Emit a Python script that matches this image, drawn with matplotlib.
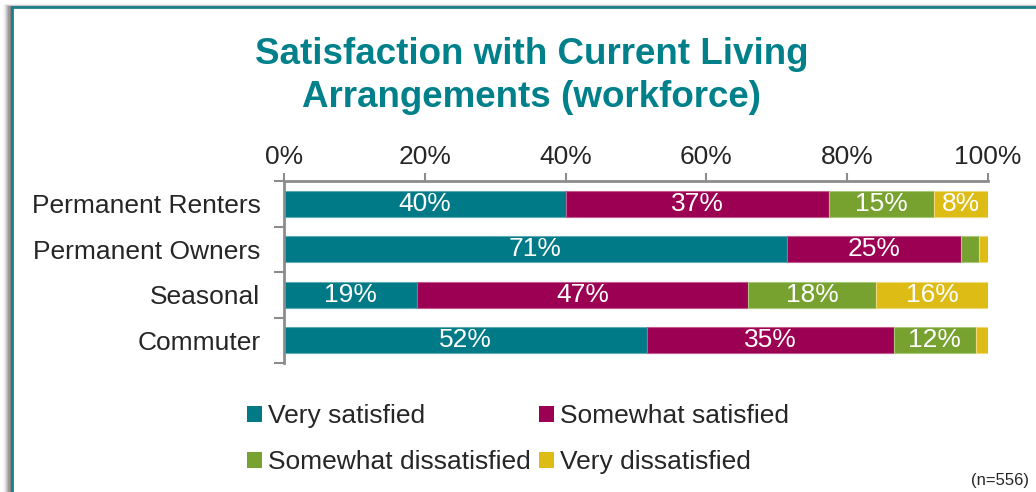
import matplotlib
matplotlib.use('Agg')
import matplotlib.pyplot as plt
from matplotlib.patches import Rectangle
import numpy as np

plt.rcParams['font.family'] = ['Liberation Sans', 'DejaVu Sans']

# Data (percent of respondents)
categories = ['Permanent Renters', 'Permanent Owners', 'Seasonal', 'Commuter']
very_satisfied = [40.0, 71.4, 18.9, 51.6]
somewhat_satisfied = [37.4, 24.8, 47.0, 35.0]
somewhat_dissatisfied = [14.9, 2.5, 18.2, 11.7]
very_dissatisfied = [7.7, 1.3, 15.9, 1.7]
series_names = ['Very satisfied', 'Somewhat satisfied',
                'Somewhat dissatisfied', 'Very dissatisfied']
colors = ['#007A87', '#9C0052', '#77A22F', '#DEBC16']
edge_colors = ['#5FAAB3', '#C25A8C', '#A8C87A', '#EFD97A']
min_label = 5  # segments narrower than this get no label

W, H = 1036, 492
fig = plt.figure(figsize=(W / 100, H / 100), dpi=100)

# frame with soft shadow on the left / top
for i, a in enumerate(np.linspace(0.02, 0.18, 8)):
    off = (8 - i) * 1.2
    fig.patches.append(Rectangle(((12 - off) / W, 0), 1.2, (H - 7 + off * 0.3) / H,
                                 transform=fig.transFigure, facecolor='#000000',
                                 alpha=a, edgecolor='none', zorder=0))
fig.patches.append(Rectangle((12 / W, -0.1), 1.2, (H - 7) / H + 0.1,
                             transform=fig.transFigure, facecolor='white',
                             edgecolor='#1B7F8C', linewidth=2, zorder=1))

fig.text(532 / W, 1 - 76 / H, 'Satisfaction with Current Living\nArrangements (workforce)',
         ha='center', va='center', fontsize=26.5, fontweight='bold',
         color='#00808A', linespacing=1.32)

ax = fig.add_axes([284 / W, (H - 363) / H, (988 - 284) / W, (363 - 181) / H])
ax.set_zorder(2)
ax.patch.set_alpha(0)

series = [very_satisfied, somewhat_satisfied, somewhat_dissatisfied, very_dissatisfied]
y = np.arange(len(categories))
left = np.zeros(len(categories))
for vals, name, c, ec in zip(series, series_names, colors, edge_colors):
    vals = np.array(vals)
    ax.barh(y, vals, left=left, height=0.57, color=c, edgecolor=ec,
            linewidth=0.8, label=name)
    for yi, (l, v) in enumerate(zip(left, vals)):
        if v >= min_label:
            ax.text(l + v / 2, yi, f'{v:.0f}%', ha='center', va='center',
                    color='white', fontsize=19)
    left += vals

ax.set_xlim(0, 100)
ax.set_ylim(3.5, -0.5)
ax.xaxis.tick_top()
ax.set_xticks(np.arange(0, 101, 20))
ax.set_xticklabels([f'{v}%' for v in range(0, 101, 20)])
ax.set_yticks(y)
ax.set_yticklabels(categories)
ax.set_yticks(np.arange(-0.5, 4, 1), minor=True)
ax.tick_params(axis='y', which='major', length=0, pad=17, labelsize=19, labelcolor='#262626')
ax.tick_params(axis='y', which='minor', length=7, width=1.5, color='#8C8C8C')
ax.tick_params(axis='x', which='major', length=6, width=1.5, color='#8C8C8C',
               pad=3, labelsize=19, labelcolor='#262626')
for s in ['right', 'bottom']:
    ax.spines[s].set_visible(False)
for s in ['top', 'left']:
    ax.spines[s].set_color('#8C8C8C')
    ax.spines[s].set_linewidth(2)

# legend filled row by row: matplotlib fills columns first, so reorder
handles, labels = ax.get_legend_handles_labels()
order = [0, 2, 1, 3]
leg = fig.legend([handles[i] for i in order], [labels[i] for i in order],
                 loc='center', ncol=2,
                 bbox_to_anchor=(518 / W, 1 - 439 / H), frameon=False,
                 fontsize=19, handlelength=0.57, handleheight=0.57,
                 handletextpad=0.23, columnspacing=0.3, labelspacing=0.83,
                 borderpad=0)
for t in leg.get_texts():
    t.set_color('#262626')
for h in leg.legend_handles:
    h.set_edgecolor('none')

fig.text(1029 / W, 1 - 481 / H, '(n=556)', ha='right', va='center',
         fontsize=12, color='#262626')

fig.savefig('out.png', dpi=100)
